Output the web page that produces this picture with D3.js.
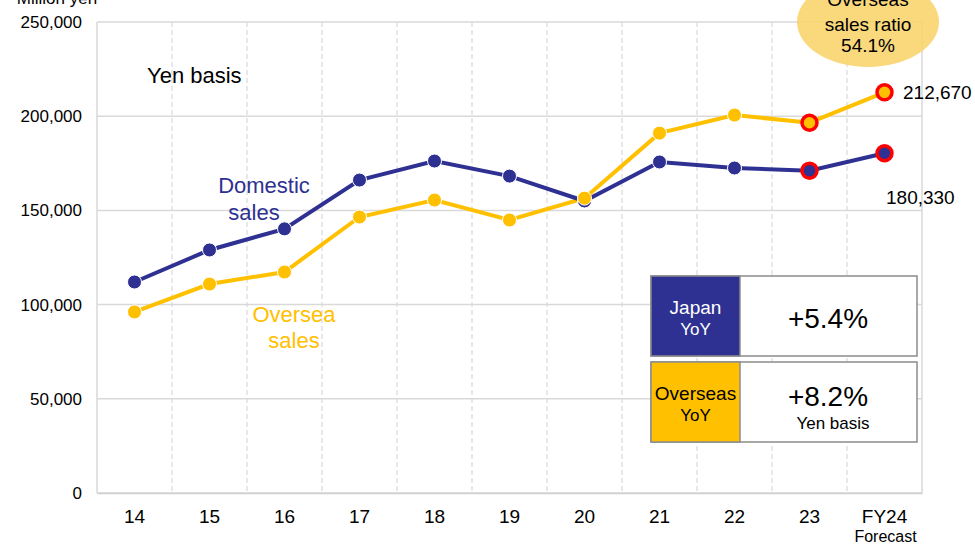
<!DOCTYPE html>
<html><head><meta charset="utf-8">
<script src="https://cdn.jsdelivr.net/npm/d3@7"></script>
<style>body{margin:0;background:#fff;font-family:"Liberation Sans",Arial,sans-serif;}</style>
</head><body><svg id="c" width="975" height="545"></svg>
<script>
const categories = ["14","15","16","17","18","19","20","21","22","23","FY24"];
const domestic = [112000,129000,140200,166100,176200,168200,155000,175700,172500,171100,180330];
const overseas = [96100,110900,117300,146500,155500,144900,156500,191000,200600,196550,212670];
const yTicks = [0,50000,100000,150000,200000,250000];
const highlighted = ["23","FY24"];

const NAVY="#2E3192", GOLD="#FFC000";
const svg=d3.select("#c");
const m={l:97,r:922,t:22,b:493};
const x=d3.scaleBand().domain(categories).range([m.l,m.r]);
const y=d3.scaleLinear().domain([0,250000]).range([m.b,m.t]);
const cx=d=>x(d)+x.bandwidth()/2;

// horizontal grid
svg.append("g").selectAll("line").data(yTicks).join("line")
 .attr("x1",m.l).attr("x2",m.r).attr("y1",d=>y(d)).attr("y2",d=>y(d))
 .attr("stroke","#D9D9D9").attr("stroke-width",1.5);
// vertical dashed
svg.append("g").selectAll("line").data(categories.slice(1)).join("line")
 .attr("x1",d=>x(d)).attr("x2",d=>x(d)).attr("y1",m.t).attr("y2",m.b)
 .attr("stroke","#D9D9D9").attr("stroke-width",1.2).attr("stroke-dasharray","5,3");
svg.append("line").attr("x1",m.l).attr("x2",m.l).attr("y1",m.t).attr("y2",m.b).attr("stroke","#D9D9D9").attr("stroke-width",1.5);
svg.append("line").attr("x1",m.r).attr("x2",m.r).attr("y1",m.t).attr("y2",m.b).attr("stroke","#D9D9D9").attr("stroke-width",1.5);

// axes
const ya=svg.append("g").attr("transform",`translate(${m.l},0)`)
 .call(d3.axisLeft(y).tickValues(yTicks).tickFormat(d3.format(",")).tickSize(0).tickPadding(15));
ya.select(".domain").remove();
ya.selectAll("text").attr("font-size",17).attr("fill","#000").attr("font-family","Liberation Sans, Arial");
const xa=svg.append("g").attr("transform",`translate(0,${m.b})`)
 .call(d3.axisBottom(x).tickSize(0).tickPadding(17));
xa.select(".domain").attr("stroke","#D0D0D0").attr("stroke-width",1.5);
xa.selectAll("text").attr("font-size",19).attr("fill","#000").attr("font-family","Liberation Sans, Arial");
svg.append("text").attr("x",cx("FY24")+1).attr("y",542).attr("text-anchor","middle")
 .attr("font-size",16).text("Forecast");
svg.append("text").attr("x",57).attr("y",4).attr("text-anchor","middle").attr("font-size",17).text("Million yen");

// bubble
const bub=svg.append("g");
bub.append("ellipse").attr("cx",868).attr("cy",22).attr("rx",71).attr("ry",45).attr("fill","#F9D46E").attr("opacity",0.9);
[["Overseas",6],["sales ratio",31],["54.1%",52]].forEach(([t,yy])=>bub.append("text").attr("x",868).attr("y",yy)
 .attr("text-anchor","middle").attr("font-size",19).text(t));

svg.append("text").attr("x",147).attr("y",83).attr("font-size",22).text("Yen basis");

// lines
const line=d3.line().x((d,i)=>cx(categories[i])).y(d=>y(d));
[[overseas,GOLD],[domestic,NAVY]].forEach(([s,c])=>{
 svg.append("path").datum(s).attr("d",line).attr("fill","none").attr("stroke",c).attr("stroke-width",4);
});
[[domestic,NAVY],[overseas,GOLD]].forEach(([s,c])=>{
 svg.append("g").selectAll("circle").data(s).join("circle")
  .attr("cx",(d,i)=>cx(categories[i])).attr("cy",d=>y(d))
  .attr("r",(d,i)=>highlighted.includes(categories[i])?7.5:7)
  .attr("fill",c)
  .attr("stroke",(d,i)=>highlighted.includes(categories[i])?"#FF0000":"#fff")
  .attr("stroke-width",(d,i)=>highlighted.includes(categories[i])?3.5:1);
});

// series labels
const lab=(t,xx,yy,c,fs)=>svg.append("text").attr("x",xx).attr("y",yy).attr("text-anchor","middle").attr("font-size",fs).attr("fill",c).text(t);
lab("Domestic",264,193,NAVY,22); lab("sales",254,220,NAVY,22);
lab("Oversea",294,322,GOLD,22); lab("sales",294,348,GOLD,22);

svg.append("text").attr("x",903).attr("y",y(overseas[10])+7).attr("font-size",19).text(d3.format(",")(overseas[10]));
svg.append("text").attr("x",886).attr("y",y(domestic[10])+51).attr("font-size",19).text(d3.format(",")(domestic[10]));

// YoY boxes
function box(y0,lbl1,lbl2,fill,tcol,val,sub){
 svg.append("rect").attr("x",651).attr("y",y0).attr("width",266).attr("height",80).attr("fill","#fff").attr("stroke","#8C8C8C").attr("stroke-width",1.5);
 svg.append("rect").attr("x",651).attr("y",y0).attr("width",89).attr("height",80).attr("fill",fill).attr("stroke","#8C8C8C").attr("stroke-width",1.5);
 svg.append("text").attr("x",695.5).attr("y",y0+38).attr("text-anchor","middle").attr("font-size",19).attr("fill",tcol).text(lbl1);
 svg.append("text").attr("x",695.5).attr("y",y0+59).attr("text-anchor","middle").attr("font-size",17).attr("fill",tcol).text(lbl2);
 svg.append("text").attr("x",828).attr("y",y0+(sub?44:52)).attr("text-anchor","middle").attr("font-size",28).text(val);
 if(sub) svg.append("text").attr("x",833).attr("y",y0+67).attr("text-anchor","middle").attr("font-size",17).text(sub);
}
box(276,"Japan","YoY",NAVY,"#fff","+5.4%",null);
box(362,"Overseas","YoY",GOLD,"#000","+8.2%","Yen basis");
</script></body></html>
